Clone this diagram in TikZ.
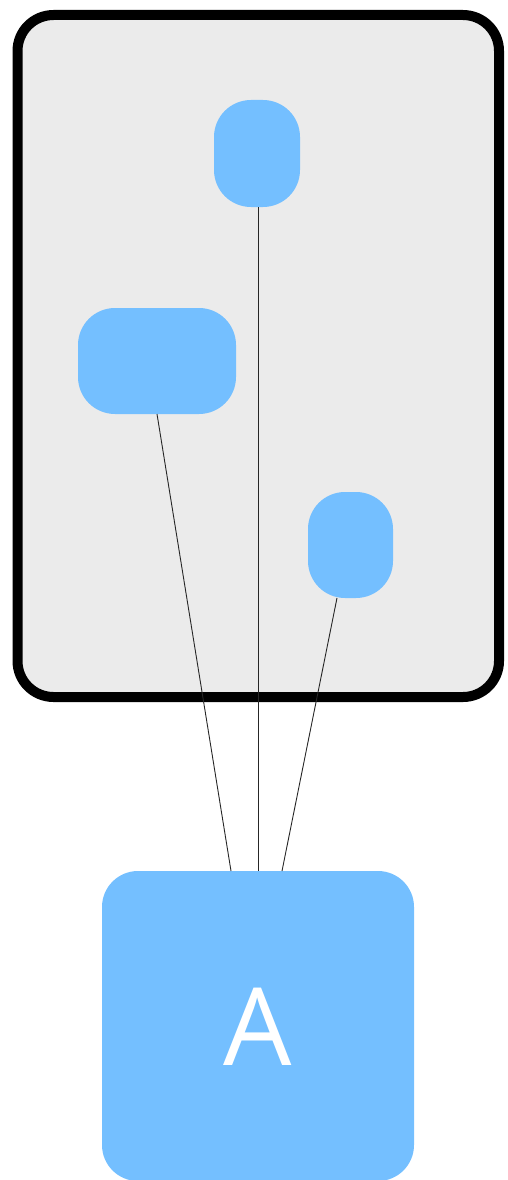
\documentclass[tikz,border=0pt]{standalone}
\usepackage{fontspec}
\setsansfont{Open Sans}
\definecolor{nodeblue}{HTML}{74BFFF}
\definecolor{panelgray}{HTML}{EBEBEB}
\begin{document}
\begin{tikzpicture}[x=1pt,y=-1pt,
  blob/.style={fill=nodeblue,draw=none,rounded corners=37pt},
  link/.style={draw=black!85,line width=0.9pt}]
\useasboundingbox (0,0) rectangle (507,1180);
\draw[fill=panelgray,line width=10pt,rounded corners=36pt] (17.5,15) rectangle (499,697);
\path[blob] (214,100) rectangle (300,207);
\path[blob] (78,308) rectangle (236,414);
\path[blob] (308,492) rectangle (393,598);
\path[fill=nodeblue,rounded corners=36pt] (102,871) rectangle (414,1181);
\coordinate (t) at (258,207);
\coordinate (m) at (157,414);
\coordinate (r) at (337,598);
\coordinate (a1) at (231,871);
\coordinate (a2) at (258,871);
\coordinate (a3) at (282,871);
\draw[link] (t) -- (a2);
\draw[link] (m) -- (a1);
\draw[link] (r) -- (a3);
\node[text=white,font=\sffamily\fontsize{108}{108}\selectfont] (A) at (258,1027) {A};
\end{tikzpicture}
\end{document}
